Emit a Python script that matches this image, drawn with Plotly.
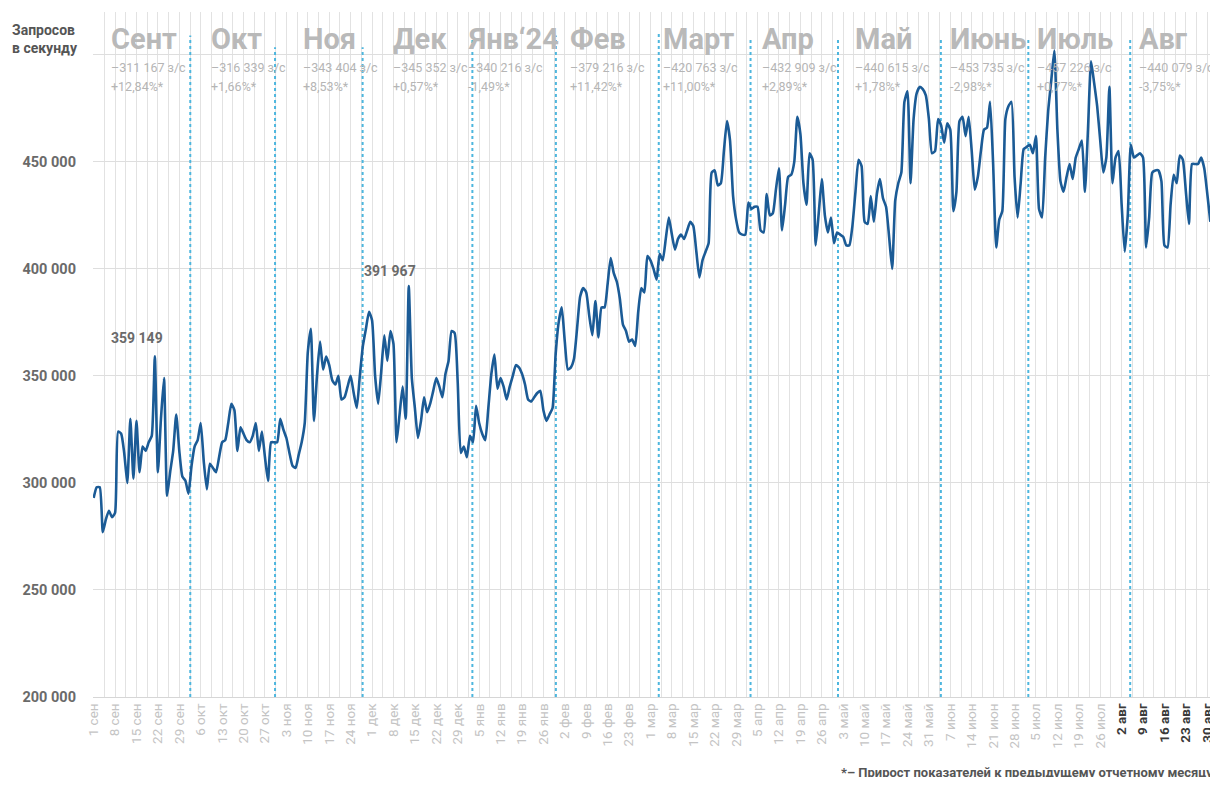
import pandas as pd
import plotly.graph_objects as go

# ---------------- data (thousands of requests per second, daily) ----------------
sep = [293, 298, 298, 277, 283, 287, 284, 286, 324, 323, 314, 300, 330, 302, 329, 305, 317, 315, 319, 322,
       359.149, 305, 330, 349, 294, 305, 315, 332, 315, 303]
oct_ = [301, 295, 308, 317, 320, 328, 310, 297, 309, 307, 305, 312, 319, 320, 328, 337, 334, 315, 326, 323,
        320, 319, 322, 328, 315, 324, 312, 301, 319, 319, 319]
nov = [330, 325, 321, 314, 308, 307, 313, 319, 328, 361, 372, 329, 350, 366, 353, 359, 355, 348, 346, 350,
       339, 340, 345, 350, 342, 335, 350, 364, 372, 380]
dec = [376, 350, 337, 352, 369, 357, 371, 365, 319, 332, 345, 330, 391.967, 349, 335, 321, 329, 340, 333, 337,
       343, 349, 345, 340, 351, 357, 371, 370, 347, 314, 317]
jan = [312, 322, 319, 336, 328, 323, 320, 335, 351, 360, 344, 349, 345, 339, 345, 350, 355, 354, 351, 346,
       339, 338, 340, 342, 343, 334, 329, 332, 335, 360, 375]
feb = [382, 366, 353, 354, 358, 372, 387, 391, 389, 378, 369, 385, 368, 382, 382, 393, 405, 398, 394, 386,
       374, 371, 366, 367, 364, 380, 391, 389, 406]
mar = [404, 400, 395, 407, 404, 414, 424, 416, 409, 414, 416, 414, 418, 422, 420, 408, 396, 404, 408, 412,
       445, 446, 439, 440, 455, 469, 460, 434, 423, 417, 416]
apr = [416, 431, 428, 429, 429, 418, 417, 435, 425, 426, 437, 447, 418, 430, 443, 444, 450, 471, 463, 440,
       430, 454, 451, 411, 426, 442, 425, 417, 424, 412]
may = [417, 416, 415, 411, 411, 420, 436, 451, 448, 422, 421, 434, 422, 435, 442, 433, 429, 415, 400, 432,
       440, 445, 478, 483, 440, 470, 482, 485, 484, 481, 470]
jun = [454, 455, 470, 467, 459, 468, 465, 427, 436, 469, 471, 462, 471, 455, 437, 443, 455, 465, 466, 478,
       449, 410, 423, 427, 470, 476, 478, 443, 424, 440]
jul = [456, 457, 458, 454, 462, 428, 424, 452, 474, 488, 502, 465, 441, 436, 443, 449, 442, 452, 456, 460,
       436, 465, 497, 487, 476, 460, 445, 452, 485, 440, 452]
aug = [455, 430, 408, 425, 458, 452, 453, 454, 452, 410, 424, 445, 446, 446, 441, 411, 410, 430, 444, 440,
       453, 451, 436, 421, 449, 449, 449, 452, 447, 435, 422]

start_date = "2023-09-01"

month_names = ["Сент", "Окт", "Ноя", "Дек", "Янв‘24", "Фев", "Март", "Апр", "Май", "Июнь", "Июль", "Авг"]
month_avg = [311167, 316339, 343404, 345352, 340216, 379216, 420763, 432909, 440615, 453735, 457226, 440079]
month_change = ["+12,84%*", "+1,66%*", "+8,53%*", "+0,57%*", "-1,49%*", "+11,42%*", "+11,00%*",
                "+2,89%*", "+1,78%*", "-2,98%*", "+0,77%*", "-3,75%*"]
month_label_x = ["2023-09-07", "2023-10-09 18:00", "2023-11-08 20:00", "2023-12-08 08:00",
                 "2024-01-01 18:00", "2024-02-04", "2024-03-05 08:00", "2024-04-06 22:00",
                 "2024-05-07 04:00", "2024-06-07 04:00", "2024-07-05 12:00", "2024-08-08"]
month_sep_x = ["2023-10-02 14:00", "2023-10-30 07:00", "2023-11-27 22:00", "2024-01-02 19:00",
               "2024-01-30 02:00", "2024-03-03 17:00", "2024-04-02 17:00", "2024-05-01 07:00",
               "2024-06-03 22:00", "2024-07-02 12:00", "2024-08-04 19:00"]
month_sep_top = [509000, 503500, 503500, 507000, 509000, 510000, 508000, 507000, 508000, 507000, 507000]

y_ticks = [200000, 250000, 300000, 350000, 400000, 450000, 500000]
ru_months = ["янв", "фев", "мар", "апр", "май", "июн", "июл", "авг", "сен", "окт", "ноя", "дек"]

footer_text = "*– Прирост показателей к предыдущему отчетному месяцу"
y_title = "Запросов<br>в секунду"

# ---------------- build ----------------
values_k = sep + oct_ + nov + dec + jan + feb + mar + apr + may + jun + jul + aug
values = [round(v * 1000) for v in values_k]
dates = pd.date_range(start_date, periods=len(values), freq="D")

FONT = "Roboto, Liberation Sans, Arial, sans-serif"

# page is offset by the 8px body margin: figure size and margins chosen so the plot
# area sits at page pixels x 93..1215, y 12..697
FIG_W, FIG_H = 1210, 769
M_L, M_R, M_T, M_B = 85, 3, 4, 80
PLOT_W = FIG_W - M_L - M_R
PLOT_H = FIG_H - M_T - M_B


def px_x(page_x):
    return (page_x - 8 - M_L) / PLOT_W


def px_y(page_y):
    return (FIG_H - M_B - (page_y - 8)) / PLOT_H


def fmt(n):
    return f"{n:,.0f}".replace(",", " ")


tick_dates = pd.date_range(start_date, dates[-1], freq="7D")
tick_text = []
for d in tick_dates:
    lab = f"{d.day} {ru_months[d.month - 1]}"
    if d.month == 8 and d.year == 2024:
        lab = f"<span style='color:#3a3a3a'><b>{lab}</b></span>"
    tick_text.append(lab)
minor_vals = [d + pd.Timedelta(hours=84) for d in tick_dates]

fig = go.Figure()

fig.add_trace(go.Scatter(
    x=dates, y=values, mode="lines",
    line=dict(color="#1b5b96", width=2.6, shape="spline", smoothing=0.5),
    hoverinfo="x+y", showlegend=False,
))

# month separators
for xs, yt in zip(month_sep_x, month_sep_top):
    fig.add_shape(type="line", xref="x", yref="y", x0=xs, x1=xs, y0=200000, y1=yt,
                  line=dict(color="#4db6de", width=2, dash="dot"), layer="between")

# month headers
for name, avg, ch, xl in zip(month_names, month_avg, month_change, month_label_x):
    fig.add_annotation(x=xl, y=px_y(39), xref="x", yref="paper", text=f"<b>{name}</b>", showarrow=False,
                       xanchor="left", yanchor="middle", xshift=-3,
                       font=dict(family=FONT, size=29, color="#b9b9b9"))
    fig.add_annotation(x=xl, y=px_y(67), xref="x", yref="paper", text=f"–{fmt(avg)} з/с", showarrow=False,
                       xanchor="left", yanchor="middle", xshift=-3,
                       font=dict(family=FONT, size=12.5, color="#b5b5b5"))
    fig.add_annotation(x=xl, y=px_y(86), xref="x", yref="paper", text=ch, showarrow=False,
                       xanchor="left", yanchor="middle", xshift=-3,
                       font=dict(family=FONT, size=12.5, color="#b5b5b5"))

# peak labels
for seg_start, seg_len, dx, dy in [(0, len(sep), -18, 18), (len(sep) + len(oct_) + len(nov), len(dec), -19, 15)]:
    seg = values[seg_start:seg_start + seg_len]
    i = seg_start + seg.index(max(seg))
    fig.add_annotation(x=dates[i], y=values[i], text=f"<b>{fmt(values[i])}</b>", showarrow=False,
                       xshift=dx, yshift=dy, font=dict(family=FONT, size=14, color="#6a6a6a"))

fig.add_annotation(x=px_x(10), y=px_y(39), xref="paper", yref="paper",
                   text=f"<b>{y_title}</b>", showarrow=False, xanchor="left", yanchor="middle",
                   font=dict(family=FONT, size=14, color="#555555"), align="left")

fig.add_annotation(x=px_x(842), y=px_y(773), xref="paper", yref="paper",
                   text=f"<b>{footer_text}</b>", showarrow=False, xanchor="left", yanchor="middle",
                   font=dict(family=FONT, size=13, color="#555555"))

x0 = pd.Timestamp(start_date) - pd.Timedelta(hours=5)
x1 = dates[-1] + pd.Timedelta(hours=5)

fig.update_layout(
    width=FIG_W, height=FIG_H, autosize=False,
    margin=dict(l=M_L, r=M_R, t=M_T, b=M_B),
    paper_bgcolor="white", plot_bgcolor="white",
    font=dict(family=FONT),
    xaxis=dict(
        type="date", range=[x0, x1],
        tickmode="array", tickvals=list(tick_dates), ticktext=tick_text, tickangle=-90,
        tickfont=dict(family=FONT, size=13.5, color="#c4c4c4"),
        ticklabeloverflow="allow",
        showgrid=True, gridcolor="#e2e2e2", gridwidth=1,
        minor=dict(tickmode="array", tickvals=minor_vals, showgrid=True, gridcolor="#e2e2e2", gridwidth=1),
        showline=True, linecolor="#d6d6d6", linewidth=1,
        ticks="", zeroline=False, fixedrange=True,
    ),
    yaxis=dict(
        range=[200000, 520000],
        tickmode="array", tickvals=y_ticks,
        ticktext=[fmt(v) if v < 500000 else "" for v in y_ticks],
        tickfont=dict(family=FONT, size=14.5, color="#6a6a6a", weight="bold"),
        showgrid=True, gridcolor="#dedede", gridwidth=1,
        zeroline=False, ticks="", ticklabelstandoff=16, fixedrange=True,
    ),
)

fig.write_html("out.html")
